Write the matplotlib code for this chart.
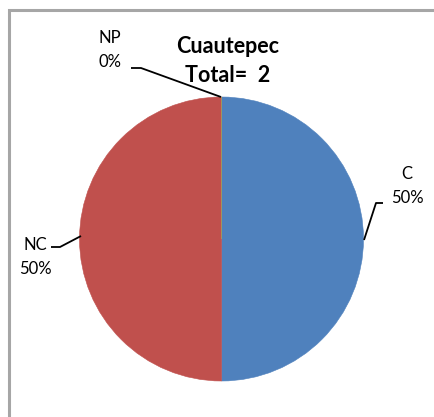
import matplotlib
matplotlib.use("Agg")
import matplotlib.pyplot as plt
from matplotlib.patches import Rectangle

categories = ["C", "NC", "NP"]
values = [1, 1, 0]
percent_labels = ["50%", "50%", "0%"]
colors = ["#4F81BD", "#C0504D", "#9BBB59"]
title = "Cuautepec\nTotal=  2"

W, H = 435, 417
fig = plt.figure(figsize=(W / 100, H / 100), dpi=100)
ax = fig.add_axes([0, 0, 1, 1])

font = "Lato"
cx, cy, r = 221.5, H - 239, 142
wedges, _ = ax.pie(values, colors=colors, startangle=90, counterclock=False,
                   center=(cx, cy), radius=r, frame=True,
                   wedgeprops=dict(linewidth=0.4))
for w, c in zip(wedges, colors):
    w.set_edgecolor(c)
ax.set_xlim(0, W)
ax.set_ylim(0, H)
ax.axis("off")
ax.set_aspect("equal")

# frame
ax.add_patch(Rectangle((9, -10), W + 20, H - 10 + 10, fill=False,
                       edgecolor="#A6A6A6", linewidth=2.2, clip_on=False))

# labels
def lab(i, tx, ty, pts):
    ax.text(tx, ty, f"{categories[i]}\n{percent_labels[i]}", ha="center", va="center",
            fontsize=12, family=font, linespacing=1.6, color="black")
    xs = [p[0] for p in pts]
    ys = [H - p[1] for p in pts]
    ax.plot(xs, ys, color="black", lw=1.3, solid_capstyle="butt")

lab(0, 407, H - 186, [(383, 203), (376, 203), (364, 240)])
lab(1, 35, H - 257, [(51, 247), (60, 247), (81, 236)])
lab(2, 110, H - 50, [(131, 68), (141, 68), (221, 97)])

ax.text(228, H - 61, title, ha="center", va="center", fontsize=15.5,
        fontweight="bold", family=font, linespacing=1.45)

fig.savefig("out.png", dpi=100)
